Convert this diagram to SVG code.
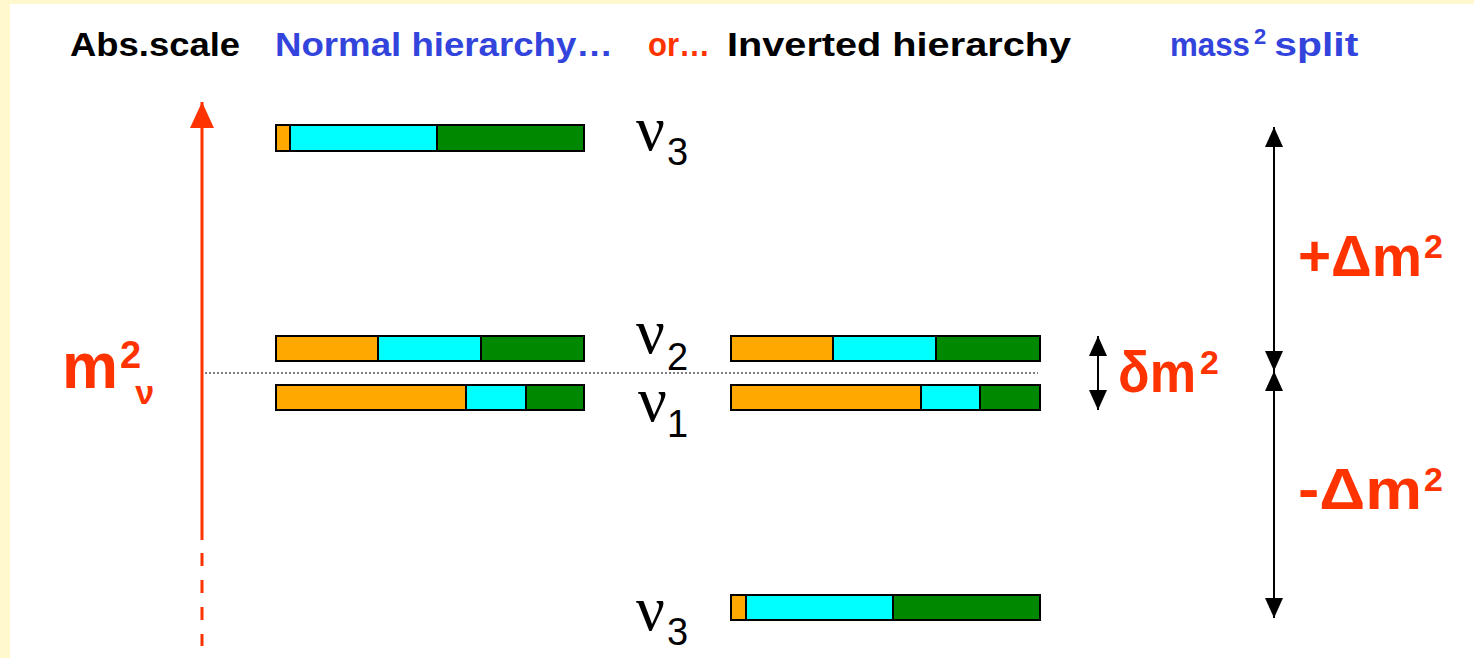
<svg xmlns="http://www.w3.org/2000/svg" width="1474" height="658" viewBox="0 0 1474 658">
<defs>
<style>
.hdr{font-family:"Liberation Sans",Arial,sans-serif;font-weight:bold;font-size:33px}
.nu{font-family:"Liberation Serif","Times New Roman",serif;font-size:64px;fill:#000}
.sub{font-family:"Liberation Sans",Arial,sans-serif;font-size:38px;fill:#000}
.red{font-family:"Liberation Sans",Arial,sans-serif;font-weight:bold;fill:#FF3300}
.bar rect{stroke:#000;stroke-width:2}
.o{fill:#FFA800}.c{fill:#00FFFF}.g{fill:#008800}
</style>
<marker id="ah" viewBox="0 0 20 18" refX="20" refY="9" markerWidth="20" markerHeight="18" markerUnits="userSpaceOnUse" orient="auto">
<path d="M0,0 L20,9 L0,18 Z" fill="#000"/>
</marker>
<marker id="ahr" viewBox="0 0 26 24" refX="26" refY="12" markerWidth="26" markerHeight="24" markerUnits="userSpaceOnUse" orient="auto">
<path d="M0,0 L26,12 L0,24 Z" fill="#FF3300"/>
</marker>
</defs>
<rect x="0" y="0" width="1474" height="658" fill="#FFF8CC"/>
<rect x="10" y="4" width="1464" height="654" fill="#FFFFFF"/>

<g id="headers">
<text class="hdr" x="70" y="56" fill="#000" textLength="170" lengthAdjust="spacingAndGlyphs">Abs.scale</text>
<text class="hdr" x="275" y="56" fill="#3344DD" textLength="338" lengthAdjust="spacingAndGlyphs">Normal hierarchy…</text>
<text class="hdr" x="648" y="56" fill="#FF3300" textLength="62" lengthAdjust="spacingAndGlyphs">or…</text>
<text class="hdr" x="727" y="56" fill="#000" textLength="344" lengthAdjust="spacingAndGlyphs">Inverted hierarchy</text>
<text class="hdr" x="1170" y="56" fill="#3344DD"><tspan textLength="80" lengthAdjust="spacingAndGlyphs">mass</tspan><tspan dy="-12" dx="4" font-size="22">2</tspan><tspan dy="12" dx="8" textLength="84" lengthAdjust="spacingAndGlyphs">split</tspan></text>
</g>

<g id="connectors">
<line x1="202" y1="540" x2="202" y2="102" stroke="#FF3300" stroke-width="3" marker-end="url(#ahr)"/>
<line x1="202" y1="553" x2="202" y2="646" stroke="#FF3300" stroke-width="3" stroke-dasharray="13,14"/>
<line x1="205" y1="373" x2="1038" y2="373" stroke="#000" stroke-width="1.2" stroke-dasharray="2,2"/>
<line x1="1274" y1="250" x2="1274" y2="127" stroke="#000" stroke-width="2" marker-end="url(#ah)"/>
<line x1="1274" y1="250" x2="1274" y2="371" stroke="#000" stroke-width="2" marker-end="url(#ah)"/>
<line x1="1274" y1="495" x2="1274" y2="371" stroke="#000" stroke-width="2" marker-end="url(#ah)"/>
<line x1="1274" y1="495" x2="1274" y2="618" stroke="#000" stroke-width="2" marker-end="url(#ah)"/>
<line x1="1098" y1="373" x2="1098" y2="336" stroke="#000" stroke-width="2" marker-end="url(#ah)"/>
<line x1="1098" y1="373" x2="1098" y2="410" stroke="#000" stroke-width="2" marker-end="url(#ah)"/>
</g>

<g id="axis-label">
<text class="red" x="62" y="388" font-size="64"><tspan textLength="56" lengthAdjust="spacingAndGlyphs">m</tspan><tspan dy="-20" dx="2" font-size="38">2</tspan><tspan dy="36" dx="-6" font-size="34">ν</tspan></text>
</g>

<g id="nh-nu3" class="bar">
<rect class="o" x="276" y="125" width="14" height="26"/>
<rect class="c" x="290" y="125" width="147" height="26"/>
<rect class="g" x="437" y="125" width="147" height="26"/>
</g>
<g id="nh-nu2" class="bar">
<rect class="o" x="276" y="336" width="102" height="25"/>
<rect class="c" x="378" y="336" width="103" height="25"/>
<rect class="g" x="481" y="336" width="103" height="25"/>
</g>
<g id="nh-nu1" class="bar">
<rect class="o" x="276" y="385" width="190" height="25"/>
<rect class="c" x="466" y="385" width="60" height="25"/>
<rect class="g" x="526" y="385" width="58" height="25"/>
</g>
<g id="ih-nu2" class="bar">
<rect class="o" x="731" y="336" width="102" height="25"/>
<rect class="c" x="833" y="336" width="103" height="25"/>
<rect class="g" x="936" y="336" width="104" height="25"/>
</g>
<g id="ih-nu1" class="bar">
<rect class="o" x="731" y="385" width="190" height="25"/>
<rect class="c" x="921" y="385" width="59" height="25"/>
<rect class="g" x="980" y="385" width="60" height="25"/>
</g>
<g id="ih-nu3" class="bar">
<rect class="o" x="731" y="595" width="15" height="25"/>
<rect class="c" x="746" y="595" width="147" height="25"/>
<rect class="g" x="893" y="595" width="147" height="25"/>
</g>

<g id="label-nu3-top"><text class="nu" x="636" y="150">ν<tspan class="sub" dy="15" dx="2">3</tspan></text></g>
<g id="label-nu2"><text class="nu" x="636" y="353">ν<tspan class="sub" dy="17" dx="2">2</tspan></text></g>
<g id="label-nu1"><text class="nu" x="638" y="421">ν<tspan class="sub" dy="16" dx="0">1</tspan></text></g>
<g id="label-nu3-bottom"><text class="nu" x="636" y="630">ν<tspan class="sub" dy="15" dx="2">3</tspan></text></g>

<g id="split-labels">
<text class="red" x="1298" y="276" font-size="58"><tspan textLength="124" lengthAdjust="spacingAndGlyphs">+Δm</tspan><tspan dy="-18" dx="2" font-size="34">2</tspan></text>
<text class="red" x="1298" y="509" font-size="58"><tspan textLength="124" lengthAdjust="spacingAndGlyphs">-Δm</tspan><tspan dy="-18" dx="2" font-size="34">2</tspan></text>
<text class="red" x="1118" y="392" font-size="58"><tspan textLength="78" lengthAdjust="spacingAndGlyphs">δm</tspan><tspan dy="-18" dx="4" font-size="34">2</tspan></text>
</g>
</svg>
